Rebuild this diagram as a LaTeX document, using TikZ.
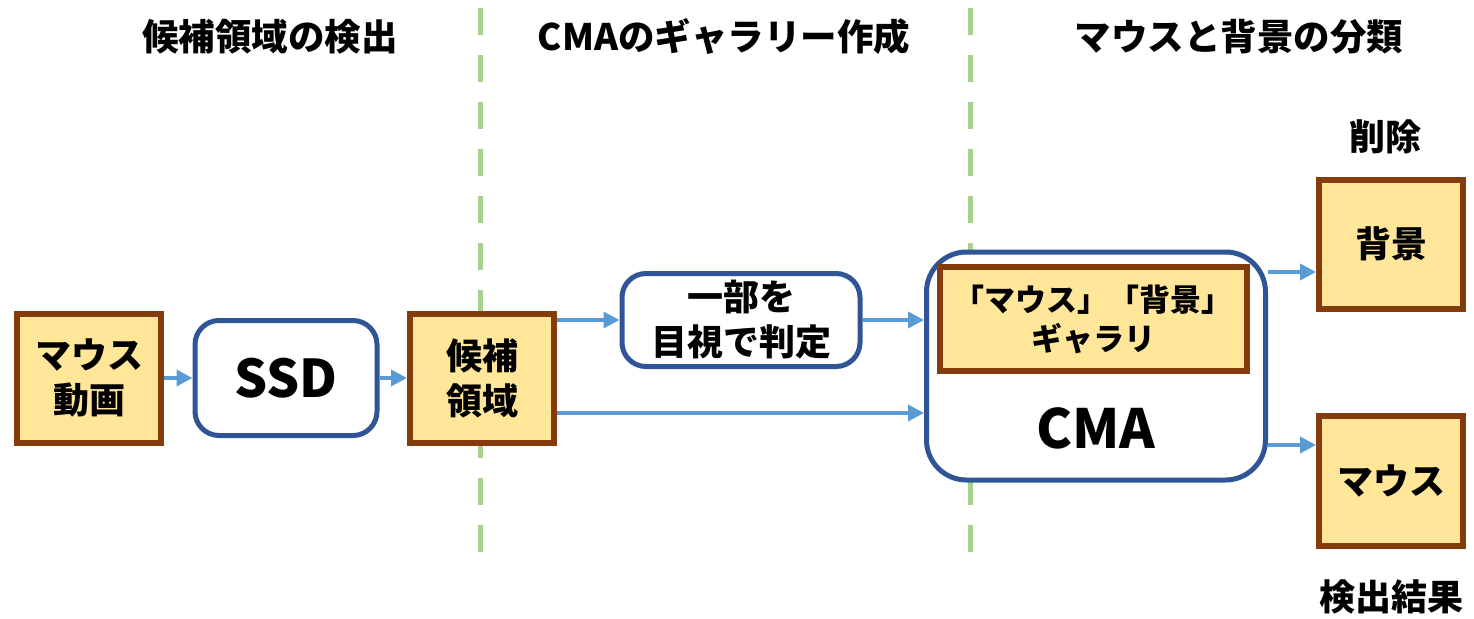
\documentclass[tikz,border=0pt]{standalone}
\usepackage{fontspec}
\setmainfont{Noto Sans CJK JP}
\usetikzlibrary{arrows.meta}
\definecolor{brownb}{HTML}{843C0C}
\definecolor{yfill}{HTML}{FFE699}
\definecolor{blueb}{HTML}{2F5597}
\definecolor{arrowc}{HTML}{5B9BD5}
\definecolor{greend}{HTML}{A9D18E}
\tikzset{
  ybox/.style={draw=brownb, fill=yfill, line width=6pt, inner sep=0pt, align=center,
    font=\fontsize{36}{45}\selectfont\bfseries},
  rbox/.style={draw=blueb, fill=white, line width=5pt, rounded corners=24pt, inner sep=0pt, align=center},
  conn/.style={draw=arrowc, line width=3.6pt, -{Triangle[length=16pt,width=16pt]}},
  divider/.style={draw=greend, line width=5pt, dash pattern=on 27pt off 20pt},
  header/.style={font=\fontsize{36.5}{40}\selectfont\bfseries},
  lab/.style={font=\fontsize{36}{40}\selectfont\bfseries}
}
\begin{document}
\begin{tikzpicture}[x=1pt,y=-1pt]
\useasboundingbox[fill=white] (0,0) rectangle (1474,618);
% dividers
\draw[divider] (480,8) -- (480,558);
\draw[divider] (970,8) -- (970,558);
% headers
\node[header] (h1) at (270,37) {候補領域の検出};
\node[header] (h2) at (724,37) {CMAのギャラリー作成};
\node[header] (h3) at (1239,37) {マウスと背景の分類};
% nodes
\node[ybox, minimum width=144pt, minimum height=129pt] (video) at (89,378) {マウス\\動画};
\node[rbox, minimum width=182pt, minimum height=115pt, font=\fontsize{52}{54}\selectfont\bfseries] (ssd) at (286,378) {SSD};
\node[ybox, minimum width=144pt, minimum height=129pt] (cand) at (482,378) {候補\\領域};
\node[rbox, minimum width=238pt, minimum height=93pt, font=\fontsize{36}{45}\selectfont\bfseries] (judge) at (741,320) {一部を\\目視で判定};
\node[rbox, rounded corners=40pt, minimum width=339pt, minimum height=228pt] (cma) at (1096,366) {};
\node[ybox, minimum width=307pt, minimum height=104pt, font=\fontsize{31}{39}\selectfont\bfseries] (gal) at (1093,319) {「マウス」「背景」\\ギャラリ};
\node[font=\fontsize{54}{56}\selectfont\bfseries] (cmatxt) at (1096,428) {CMA};
\node[ybox, minimum width=144pt, minimum height=129pt] (bg) at (1391,244) {背景};
\node[ybox, minimum width=144pt, minimum height=130pt] (mouse) at (1391,481) {マウス};
\node[lab] (del) at (1385,137) {削除};
\node[lab] (res) at (1391,597) {検出結果};
% connectors
\draw[conn] (video.east) -- (ssd.west);
\draw[conn] (ssd.east) -- (cand.west);
\draw[conn] (cand.east |- judge.west) -- (judge.west);
\draw[conn] (judge.east) -- (cma.west |- judge.east);
\coordinate (c1) at (557,413);
\draw[conn] (cand.east |- c1) -- (cma.west |- c1);
\coordinate (c2) at (1268,272);
\draw[conn] (cma.east |- c2) -- (bg.west |- c2);
\coordinate (c3) at (1268,445);
\draw[conn] (cma.east |- c3) -- (mouse.west |- c3);
\end{tikzpicture}
\end{document}
